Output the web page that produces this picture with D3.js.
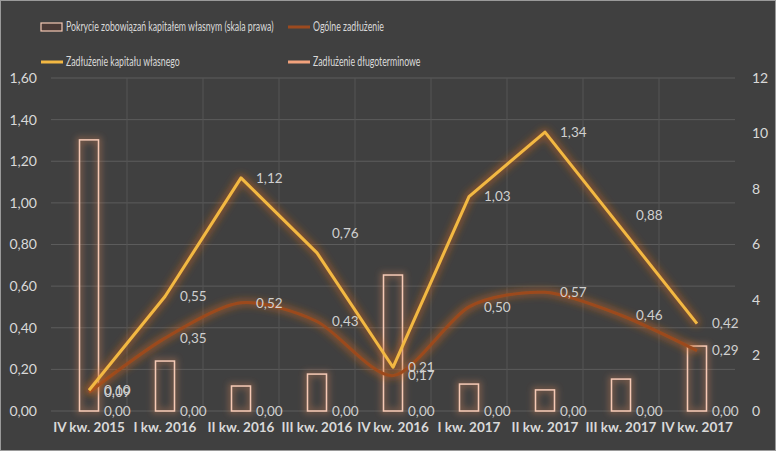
<!DOCTYPE html>
<html>
<head>
<meta charset="utf-8">
<script src="https://cdn.jsdelivr.net/npm/d3@7"></script>
<style>
  html, body { margin: 0; padding: 0; background: #404040; }
  svg text { font-family: Lato, "Open Sans", sans-serif; }
</style>
</head>
<body>
<div id="chart"></div>
<script>
const width = 776;
const height = 451;

// Chart data
const quarters = ['IV kw. 2015', 'I kw. 2016', 'II kw. 2016', 'III kw. 2016', 'IV kw. 2016',
  'I kw. 2017', 'II kw. 2017', 'III kw. 2017', 'IV kw. 2017'];
const pokrycie = [9.77, 1.8, 0.9, 1.33, 4.9, 0.97, 0.76, 1.15, 2.34];
const ogolne = [0.09, 0.35, 0.52, 0.43, 0.17, 0.50, 0.57, 0.46, 0.29];
const kapitalu = [0.10, 0.55, 1.12, 0.76, 0.21, 1.03, 1.34, 0.88, 0.42];
const dlugoterm = [0, 0, 0, 0, 0, 0, 0, 0, 0];
const leftTicks = [0, 0.2, 0.4, 0.6, 0.8, 1.0, 1.2, 1.4, 1.6];
const rightTicks = [0, 2, 4, 6, 8, 10, 12];

// label nudges for the yellow series (Excel moved two of them up)
const kapitaluLabelDy = [0, 0, 0, -20, 0, 0, 0, -13, 0];

const margin = { top: 78, right: 41, bottom: 40, left: 51 };

const svg = d3.select('#chart')
  .append('svg')
  .attr('width', width)
  .attr('height', height);

svg.append('rect')
  .attr('x', 0.5).attr('y', 0.5)
  .attr('width', width - 1).attr('height', height - 1)
  .attr('fill', '#404040')
  .attr('stroke', '#9a9a9a');

// glow filters
const defs = svg.append('defs');
function glow(id, color, blur, opacity) {
  const f = defs.append('filter').attr('id', id)
    .attr('x', '-20%').attr('y', '-20%').attr('width', '140%').attr('height', '140%');
  f.append('feMorphology').attr('in', 'SourceAlpha').attr('operator', 'dilate').attr('radius', 1.5).attr('result', 'd');
  f.append('feGaussianBlur').attr('in', 'd').attr('stdDeviation', blur).attr('result', 'b');
  f.append('feFlood').attr('flood-color', color).attr('flood-opacity', opacity);
  f.append('feComposite').attr('in2', 'b').attr('operator', 'in').attr('result', 'g');
  const m = f.append('feMerge');
  m.append('feMergeNode').attr('in', 'g');
  m.append('feMergeNode').attr('in', 'SourceGraphic');
}
glow('glowLine', '#c8641e', 3.5, 0.5);
glow('glowBar', '#c07a55', 3, 0.5);

const x = d3.scaleBand()
  .domain(quarters)
  .range([margin.left, width - margin.right]);

const yLeft = d3.scaleLinear()
  .domain([0, 1.6])
  .range([height - margin.bottom, margin.top]);

const yRight = d3.scaleLinear()
  .domain([0, 12])
  .range([height - margin.bottom, margin.top]);

const cx = d => x(d) + x.bandwidth() / 2;

// horizontal gridlines
svg.append('g')
  .selectAll('line')
  .data(leftTicks)
  .enter()
  .append('line')
  .attr('x1', margin.left).attr('x2', width - margin.right)
  .attr('y1', d => yLeft(d)).attr('y2', d => yLeft(d))
  .attr('stroke', '#5c5c5c')
  .attr('stroke-width', 1);

// vertical gridlines on category boundaries
svg.append('g')
  .selectAll('line')
  .data(quarters.slice(1))
  .enter()
  .append('line')
  .attr('x1', d => x(d)).attr('x2', d => x(d))
  .attr('y1', margin.top).attr('y2', height - margin.bottom)
  .attr('stroke', '#555555')
  .attr('stroke-width', 1);

// left axis
const leftAxis = svg.append('g')
  .attr('transform', `translate(${margin.left - 14},0)`)
  .call(d3.axisLeft(yLeft).tickValues(leftTicks).tickSize(0).tickPadding(0)
    .tickFormat(d => d3.format('.2f')(d).replace('.', ',')));
leftAxis.select('.domain').remove();
leftAxis.selectAll('text').attr('fill', '#d9d9d9').attr('font-size', 14);

// right axis
const rightAxis = svg.append('g')
  .attr('transform', `translate(${width - margin.right + 17},0)`)
  .call(d3.axisRight(yRight).tickValues(rightTicks).tickSize(0).tickPadding(0));
rightAxis.select('.domain').remove();
rightAxis.selectAll('text').attr('fill', '#d9d9d9').attr('font-size', 14);

// x axis
const xAxis = svg.append('g')
  .attr('transform', `translate(0,${height - margin.bottom + 11})`)
  .call(d3.axisBottom(x).tickSize(0).tickPadding(0));
xAxis.select('.domain').remove();
xAxis.selectAll('text')
  .attr('fill', '#d9d9d9')
  .attr('font-size', 13.5)
  .attr('font-weight', 'bold')
  .attr('dy', '0.75em');

// bars (secondary axis)
const barW = 19;
svg.append('g')
  .attr('filter', 'url(#glowBar)')
  .selectAll('rect')
  .data(pokrycie)
  .enter()
  .append('rect')
  .attr('x', (d, i) => cx(quarters[i]) - barW / 2)
  .attr('y', d => yRight(d))
  .attr('width', barW)
  .attr('height', d => yRight(0) - yRight(d))
  .attr('fill', 'none')
  .attr('stroke', '#f6c9b4')
  .attr('stroke-width', 1.5);

// lines
function drawLine(values, color, curve) {
  const line = d3.line()
    .x((d, i) => cx(quarters[i]))
    .y(d => yLeft(d))
    .curve(curve);
  svg.append('path')
    .datum(values)
    .attr('d', line)
    .attr('fill', 'none')
    .attr('stroke', color)
    .attr('stroke-width', 3)
    .attr('stroke-linejoin', 'round')
    .attr('filter', 'url(#glowLine)');
}
drawLine(ogolne, '#9c4a1f', d3.curveCardinal.tension(0.2));
drawLine(kapitalu, '#f3b843', d3.curveLinear);
drawLine(dlugoterm, '#f2a27c', d3.curveLinear);

// data labels
const fmt = d => d3.format('.2f')(d).replace('.', ',');
function drawLabels(values, dys) {
  svg.append('g')
    .selectAll('text')
    .data(values)
    .enter()
    .append('text')
    .attr('x', (d, i) => cx(quarters[i]) + 15)
    .attr('y', (d, i) => yLeft(d) + (dys ? dys[i] : 0))
    .attr('dy', '0.35em')
    .attr('fill', '#d0d0d0')
    .attr('font-size', 13.5)
    .text(fmt);
}
drawLabels(ogolne);
drawLabels(kapitalu, kapitaluLabelDy);
drawLabels(dlugoterm);

// legend
const legendItems = [
  { name: 'Pokrycie zobowiązań kapitałem własnym (skala prawa)', type: 'bar', color: '#f6c9b4', x: 41, y: 27 },
  { name: 'Ogólne zadłużenie', type: 'line', color: '#9c4a1f', x: 288, y: 27 },
  { name: 'Zadłużenie kapitału własnego', type: 'line', color: '#f3b843', x: 41, y: 62 },
  { name: 'Zadłużenie długoterminowe', type: 'line', color: '#f2a27c', x: 288, y: 62 }
];
const legend = svg.append('g');
legendItems.forEach(function (item) {
  if (item.type === 'bar') {
    legend.append('rect')
      .attr('x', item.x).attr('y', item.y - 4)
      .attr('width', 21).attr('height', 8)
      .attr('fill', '#4a3a36')
      .attr('stroke', item.color)
      .attr('stroke-width', 1.2);
  } else {
    legend.append('line')
      .attr('x1', item.x).attr('x2', item.x + 22)
      .attr('y1', item.y).attr('y2', item.y)
      .attr('stroke', item.color)
      .attr('stroke-width', 3);
  }
  legend.append('text')
    .attr('transform', `translate(${item.x + 25},${item.y}) scale(0.7,1)`)
    .attr('dy', '0.35em')
    .attr('fill', '#d9d9d9')
    .attr('font-size', 12.5)
    .text(item.name);
});
</script>
</body>
</html>
